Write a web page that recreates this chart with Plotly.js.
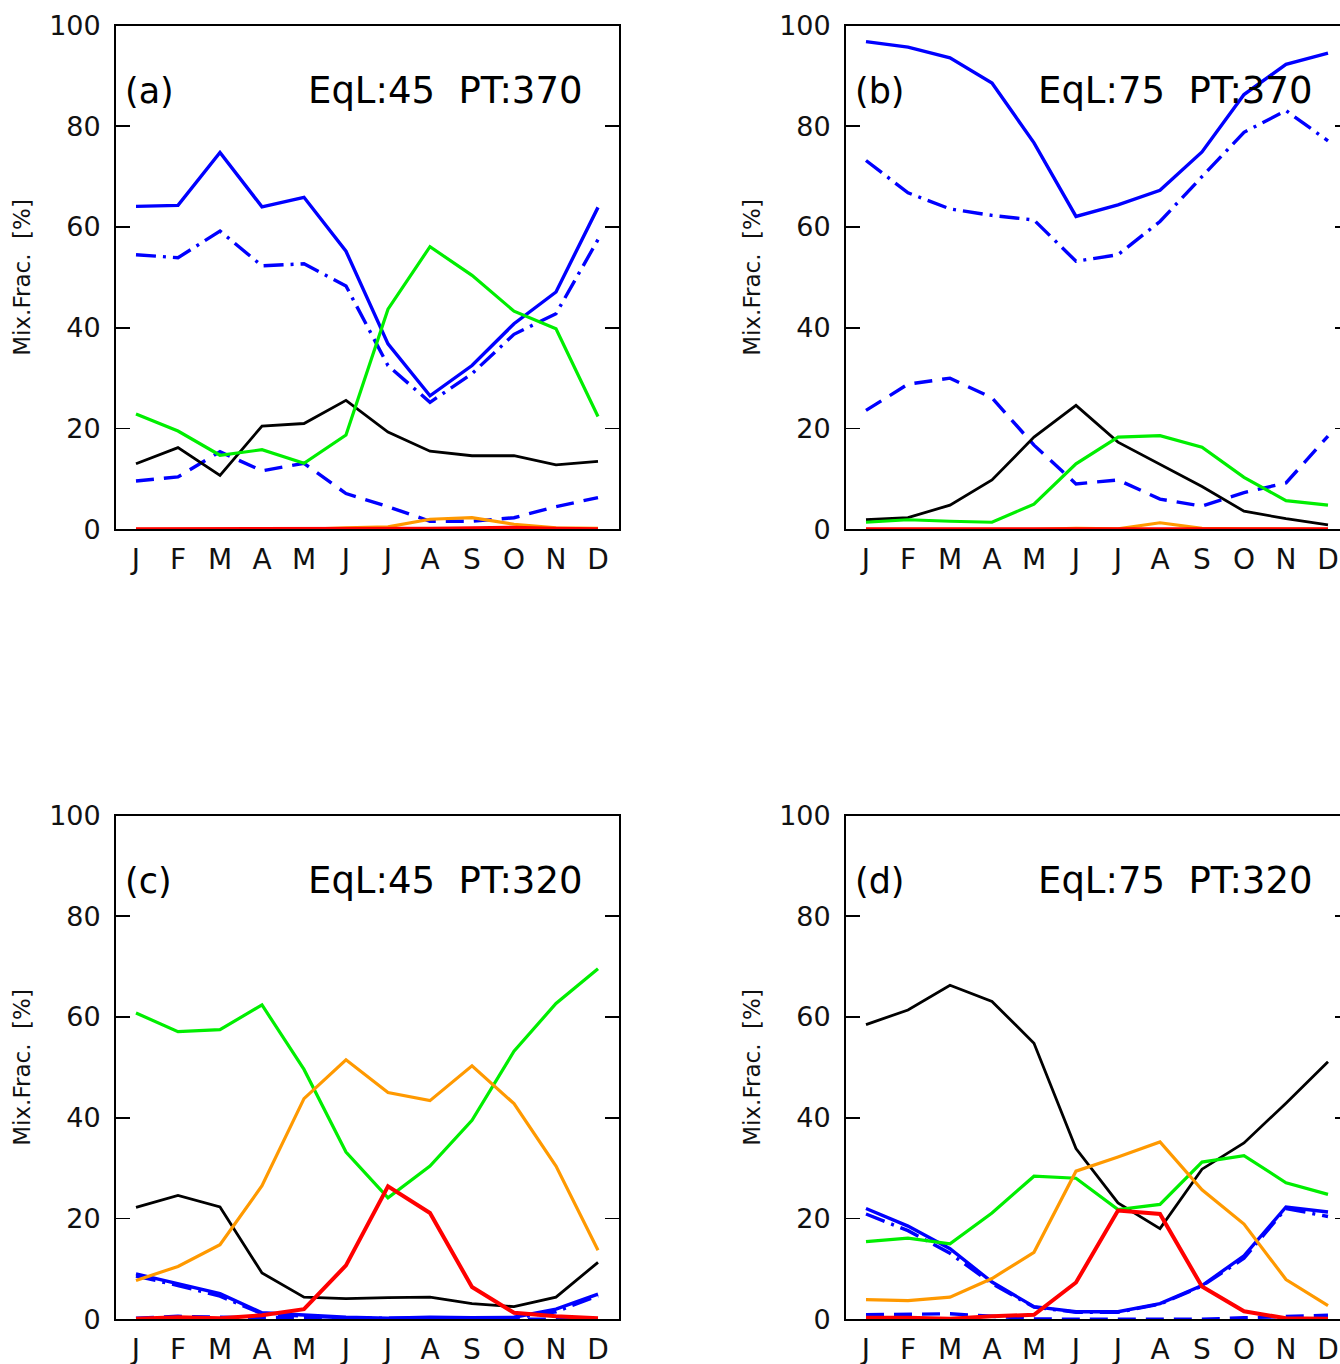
<!DOCTYPE html>
<html>
<head>
<meta charset="utf-8">
<script src="https://cdn.plot.ly/plotly-3.0.1.min.js"></script>
<style>
html,body{margin:0;padding:0;background:#fff;overflow:hidden;}
#chart{width:1360px;height:1364px;}
</style>
</head>
<body>
<div id="chart"></div>
<script>
// ---------- data ----------
const months = ['J','F','M','A','M','J','J','A','S','O','N','D'];
const monthIdx = [0,1,2,3,4,5,6,7,8,9,10,11];

// Panel (a) EqL:45 PT:370
const a_blueSolid   = [64.1,64.3,74.8,64.0,65.9,55.2,36.8,26.5,32.5,40.8,47.1,63.9];
const a_blueDashDot = [54.5,53.9,59.2,52.3,52.7,48.3,32.5,25.2,30.9,38.7,42.8,57.5];
const a_blueDash    = [9.6,10.4,15.4,11.6,13.1,7.1,4.5,1.6,1.6,2.3,4.5,6.3];
const a_black       = [13.0,16.2,10.7,20.5,21.0,25.6,19.3,15.5,14.6,14.6,12.8,13.5];
const a_green       = [22.9,19.5,14.7,15.8,13.1,18.7,43.7,56.1,50.4,43.3,39.8,22.4];
const a_orange      = [0,0,0,0,0,0.3,0.5,2.0,2.3,1.0,0.3,0.2];
const a_red         = [0,0,0,0,0,0,0.1,0.1,0.2,0.3,0.1,0];

// Panel (b) EqL:75 PT:370
const b_blueSolid   = [96.8,95.7,93.6,88.6,76.7,62.1,64.4,67.3,74.9,86.3,92.3,94.5];
const b_blueDashDot = [73.2,66.8,63.6,62.3,61.4,53.2,54.5,61.1,70.0,78.8,83.1,77.1];
const b_blueDash    = [23.6,28.8,30.0,26.1,16.7,9.0,9.8,6.0,4.6,7.3,9.2,18.5];
const b_black       = [1.9,2.3,4.8,9.8,18.3,24.6,17.3,12.9,8.5,3.6,2.1,0.9];
const b_green       = [1.4,1.9,1.6,1.4,5.0,13.0,18.3,18.6,16.3,10.3,5.7,4.8];
const b_orange      = [0,0,0,0,0,0.2,0.1,1.3,0.2,0.1,0,0];
const b_red         = [0,0,0,0,0,0,0,0,0,0,0,0];

// Panel (c) EqL:45 PT:320
const c_blueSolid   = [9.0,7.1,5.1,1.3,0.8,0.4,0.2,0.4,0.3,0.4,2.0,5.0];
const c_blueDashDot = [8.6,6.7,4.6,1.1,0.6,0.3,0.2,0.3,0.2,0.3,1.5,4.7];
const c_blueDash    = [0.2,0.6,0.4,0.3,0.4,0.1,0.0,0.2,0.1,0.0,0.0,0.0];
const c_black       = [22.2,24.6,22.3,9.2,4.4,4.1,4.3,4.4,3.1,2.5,4.4,11.3];
const c_green       = [60.8,57.1,57.5,62.4,49.6,33.2,24.1,30.4,39.5,53.2,62.7,69.6];
const c_orange      = [7.7,10.5,14.8,26.5,43.8,51.5,45.0,43.4,50.3,42.8,30.4,13.7];
const c_red         = [0.1,0.4,0.2,0.8,2.0,10.7,26.4,21.1,6.4,1.3,0.6,0.2];

// Panel (d) EqL:75 PT:320
const d_blueSolid   = [22.0,18.5,14.0,7.4,2.5,1.5,1.5,3.1,6.7,12.6,22.3,21.3];
const d_blueDashDot = [20.9,17.6,13.1,7.1,2.4,1.4,1.4,3.0,6.6,12.1,22.0,20.4];
const d_blueDash    = [0.9,1.0,1.1,0.6,0.1,0.0,0.0,0.0,0.0,0.3,0.6,0.8];
const d_black       = [58.5,61.4,66.3,63.1,54.8,33.9,23.1,18.0,29.8,35.0,42.9,51.1];
const d_green       = [15.4,16.1,15.0,21.1,28.4,28.0,21.8,22.8,31.2,32.5,27.1,24.8];
const d_orange      = [3.9,3.7,4.4,8.1,13.3,29.4,32.2,35.2,25.7,18.9,7.9,2.7];
const d_red         = [0.3,0.3,0.1,0.6,0.9,7.3,21.6,20.9,6.5,1.6,0.2,0.1];

const panelLabels = ['(a)','(b)','(c)','(d)'];
const panelTitles = ['EqL:45\u00a0 PT:370','EqL:75\u00a0 PT:370','EqL:45\u00a0 PT:320','EqL:75\u00a0 PT:320'];
const yTickVals = [0,20,40,60,80,100];
const yTitle = 'Mix.Frac.\u00a0 [%]';

// ---------- layout helpers ----------
const W = 1360, H = 1364;
const panelBoxes = [ // pixel boxes [left, right, top, bottom]
  [115.7, 619.0, 25.5, 529.3],
  [845.7, 1349.0, 25.5, 529.3],
  [115.7, 619.0, 815.5, 1319.3],
  [845.7, 1349.0, 815.5, 1319.3]
];
const monthBoundaryTicks = [0.51,1.44,2.44,3.44,4.45,5.44,6.44,7.46,8.45,9.48,10.46];
const xRange = [-0.483, 11.5];

const styles = {
  blueDash:    {color:'#0000ff', width:3.4, dash:'18px,10px'},
  blueDashDot: {color:'#0000ff', width:3.4, dash:'20px,7px,3px,7px'},
  blueSolid:   {color:'#0000ff', width:3.4, dash:'solid'},
  black:       {color:'#000000', width:2.8, dash:'solid'},
  green:       {color:'#00ee00', width:3.2, dash:'solid'},
  orange:      {color:'#ff9900', width:3.2, dash:'solid'},
  red:         {color:'#ff0000', width:4.0, dash:'solid'}
};

const panelSeries = [
  {blueDash:a_blueDash, blueDashDot:a_blueDashDot, blueSolid:a_blueSolid, black:a_black, green:a_green, orange:a_orange, red:a_red},
  {blueDash:b_blueDash, blueDashDot:b_blueDashDot, blueSolid:b_blueSolid, black:b_black, green:b_green, orange:b_orange, red:b_red},
  {blueDash:c_blueDash, blueDashDot:c_blueDashDot, blueSolid:c_blueSolid, black:c_black, green:c_green, orange:c_orange, red:c_red},
  {blueDash:d_blueDash, blueDashDot:d_blueDashDot, blueSolid:d_blueSolid, black:d_black, green:d_green, orange:d_orange, red:d_red}
];
const order = ['blueDash','blueDashDot','blueSolid','black','green','orange','red'];

const FONT = 'DejaVu Sans, Liberation Sans, Arial, sans-serif';
const yTickFont = {family:FONT, size:27, color:'#111'};
const xTickFont = {family:FONT, size:28, color:'#111'};
const traces = [];
const layout = {
  width:W, height:H,
  margin:{l:0,r:0,t:0,b:0},
  paper_bgcolor:'#fff', plot_bgcolor:'#fff',
  showlegend:false,
  annotations:[]
};

panelBoxes.forEach((b, i) => {
  const n = i + 1;
  const sfx = n === 1 ? '' : String(n);
  const tickAxN = n + 4;
  const dx = [b[0]/W, b[1]/W];
  const dy = [1 - b[3]/H, 1 - b[2]/H];

  // label axis (month letters), frame line
  layout['xaxis' + sfx] = {
    domain: dx, range: xRange, anchor: 'y' + sfx,
    tickmode:'array', tickvals: monthIdx, ticktext: months,
    ticks:'', showgrid:false, zeroline:false,
    showline:true, mirror:true, linecolor:'#000', linewidth:1.6,
    tickfont: xTickFont, ticklabelstandoff: 4, fixedrange:true
  };
  // tick-mark axis at month boundaries
  layout['xaxis' + tickAxN] = {
    domain: dx, range: xRange, anchor: 'y' + sfx, overlaying: 'x' + sfx,
    tickmode:'array', tickvals: monthBoundaryTicks,
    ticks:'inside', ticklen:13, tickwidth:1.6, tickcolor:'#000',
    mirror:'ticks', showline:false, showticklabels:false,
    showgrid:false, zeroline:false, fixedrange:true
  };
  layout['yaxis' + sfx] = {
    domain: dy, range:[0,100], anchor:'x' + sfx,
    tickmode:'array', tickvals: yTickVals,
    ticks:'inside', ticklen:14, tickwidth:1.6, tickcolor:'#000',
    showline:true, mirror:'ticks', linecolor:'#000', linewidth:1.6,
    showgrid:false, zeroline:false, tickfont: yTickFont, ticklabelstandoff: 8,
    title:{text: yTitle, font:{family:FONT, size:23, color:'#111'}, standoff: 12},
    fixedrange:true
  };

  const s = panelSeries[i];
  order.forEach(k => {
    traces.push({
      type:'scatter', mode:'lines',
      x: monthIdx, y: s[k],
      xaxis:'x' + sfx, yaxis:'y' + sfx,
      line:{color:styles[k].color, width:styles[k].width, dash:styles[k].dash},
      cliponaxis:false,
      hoverinfo:'skip'
    });
  });

  layout.annotations.push({
    xref:'x' + sfx + ' domain', yref:'y' + sfx + ' domain',
    x:0.015, y:0.87, xanchor:'left', yanchor:'middle',
    text: panelLabels[i], showarrow:false,
    font:{family:FONT, size:35, color:'#000'}
  });
  layout.annotations.push({
    xref:'x' + sfx + ' domain', yref:'y' + sfx + ' domain',
    x:0.93, y:0.87, xanchor:'right', yanchor:'middle',
    text: panelTitles[i], showarrow:false,
    font:{family:FONT, size:37, color:'#000'}
  });
});

Plotly.newPlot('chart', traces, layout, {displayModeBar:false, staticPlot:true});
</script>
</body>
</html>
